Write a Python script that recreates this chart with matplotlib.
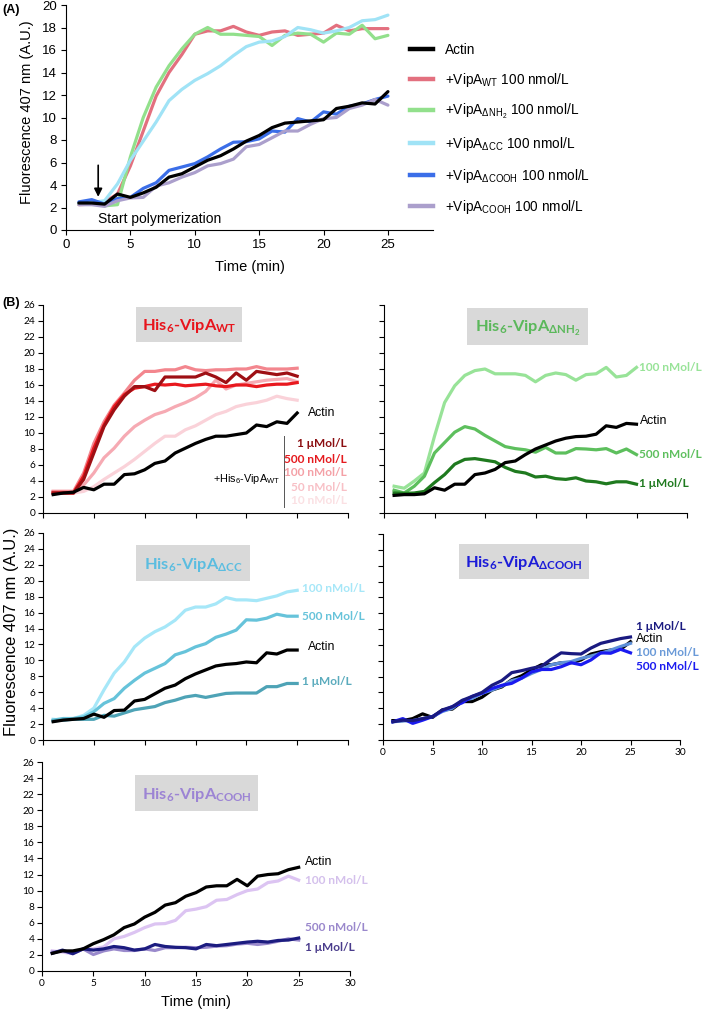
import matplotlib
matplotlib.use("Agg")
import matplotlib.pyplot as plt
from matplotlib.patches import Rectangle
from matplotlib.lines import Line2D

plt.rcParams['font.family'] = ['Liberation Sans', 'DejaVu Sans']
plt.rcParams['mathtext.default'] = 'regular'

# ---------------- data ----------------
time = [1, 2, 3, 4, 5, 6, 7, 8, 9, 10, 11, 12, 13, 14, 15, 16, 17, 18, 19, 20, 21, 22, 23, 24, 25]

# Panel A
a_actin = [2.4, 2.4, 2.3, 3.2, 2.9, 3.3, 3.8, 4.7, 5.0, 5.6, 6.2, 6.6, 7.2, 7.9, 8.4, 9.1, 9.5, 9.6, 9.7, 9.8, 10.8, 11.0, 11.3, 11.2, 12.3]
a_wt = [2.25, 2.3, 2.5, 3.2, 5.7, 8.8, 11.9, 14.0, 15.6, 17.4, 17.7, 17.7, 18.1, 17.6, 17.3, 17.6, 17.7, 17.3, 17.4, 17.5, 18.2, 17.7, 17.9, 17.9, 17.9]
a_dnh2 = [2.3, 2.35, 2.15, 2.25, 6.5, 10.0, 12.7, 14.6, 16.1, 17.4, 18.0, 17.4, 17.4, 17.3, 17.2, 16.4, 17.3, 17.5, 17.4, 16.7, 17.5, 17.4, 18.2, 17.0, 17.3]
a_dcc = [2.4, 2.45, 2.6, 4.1, 6.2, 7.9, 9.6, 11.5, 12.5, 13.3, 13.9, 14.6, 15.5, 16.3, 16.7, 16.8, 17.2, 18.0, 17.8, 17.5, 17.7, 18.0, 18.6, 18.7, 19.1]
a_dcooh = [2.5, 2.7, 2.3, 2.8, 2.9, 3.7, 4.2, 5.3, 5.6, 5.9, 6.5, 7.2, 7.8, 7.85, 8.1, 8.8, 8.7, 9.9, 9.6, 10.5, 10.3, 11.0, 11.2, 11.6, 11.9]
a_cooh = [2.25, 2.25, 2.1, 2.6, 2.85, 2.9, 3.9, 4.2, 4.7, 5.1, 5.7, 5.9, 6.3, 7.4, 7.6, 8.2, 8.8, 8.8, 9.4, 9.9, 10.0, 10.8, 11.1, 11.6, 11.1]

# Panel B - WT
wt_actin = [2.3, 2.5, 2.6, 3.2, 2.9, 3.6, 3.6, 4.8, 4.9, 5.4, 6.2, 6.5, 7.5, 8.1, 8.7, 9.2, 9.6, 9.6, 9.8, 10.0, 11.0, 10.8, 11.4, 11.2, 12.5]
wt_1um = [2.5, 2.5, 2.5, 4.2, 7.5, 10.8, 12.9, 14.6, 15.8, 15.8, 15.3, 17.0, 17.0, 17.0, 17.0, 17.5, 17.0, 16.3, 17.5, 16.6, 17.7, 17.5, 17.3, 17.5, 17.1]
wt_500 = [2.5, 2.5, 2.5, 4.6, 8.1, 11.0, 13.3, 14.8, 15.6, 15.8, 16.1, 16.0, 16.1, 15.9, 16.0, 16.1, 15.9, 15.8, 16.0, 16.0, 15.8, 16.0, 16.1, 16.1, 16.3]
wt_100 = [2.7, 2.7, 2.7, 5.0, 8.7, 11.4, 13.5, 15.0, 16.6, 17.7, 17.7, 17.9, 17.9, 18.3, 17.9, 17.8, 17.9, 17.9, 18.0, 18.0, 18.3, 18.0, 18.0, 18.0, 18.1]
wt_50 = [2.7, 2.7, 2.7, 3.5, 5.0, 6.9, 8.1, 9.6, 10.8, 11.6, 12.3, 12.7, 13.3, 13.8, 14.4, 15.2, 16.6, 15.5, 16.0, 16.2, 16.4, 16.6, 16.7, 16.8, 16.4]
wt_10 = [2.6, 2.6, 2.5, 2.7, 3.3, 4.2, 5.0, 5.8, 6.7, 7.7, 8.7, 9.6, 9.6, 10.4, 10.9, 11.6, 12.3, 12.7, 13.3, 13.6, 13.8, 14.1, 14.6, 14.3, 14.1]

# Panel B - dNH2
nh_actin = [2.2, 2.3, 2.3, 2.4, 3.15, 2.85, 3.6, 3.6, 4.8, 5.0, 5.45, 6.3, 6.5, 7.3, 8.0, 8.5, 9.0, 9.35, 9.55, 9.6, 9.85, 10.9, 10.7, 11.2, 11.1]
nh_100 = [3.35, 3.1, 4.0, 5.0, 9.6, 13.8, 15.9, 17.2, 17.8, 18.0, 17.4, 17.4, 17.4, 17.2, 16.4, 17.2, 17.5, 17.3, 16.6, 17.3, 17.4, 18.2, 17.0, 17.2, 18.2]
nh_500 = [2.85, 2.5, 3.35, 4.6, 7.5, 8.8, 10.1, 10.8, 10.5, 9.7, 9.0, 8.3, 8.05, 7.9, 7.6, 8.2, 7.5, 7.5, 8.05, 8.0, 7.9, 8.05, 7.5, 8.0, 7.3]
nh_1um = [2.5, 2.45, 2.5, 2.7, 3.8, 4.8, 6.1, 6.7, 6.8, 6.6, 6.4, 5.7, 5.2, 5.0, 4.5, 4.6, 4.3, 4.2, 4.4, 4.0, 3.9, 3.65, 3.9, 3.9, 3.6]

# Panel B - dCC
cc_actin = [2.3, 2.5, 2.6, 2.7, 3.25, 2.85, 3.7, 3.75, 4.9, 5.1, 5.8, 6.5, 6.9, 7.7, 8.3, 8.8, 9.3, 9.5, 9.6, 9.8, 9.7, 10.95, 10.8, 11.3, 11.3]
cc_100 = [2.6, 2.5, 2.7, 3.1, 4.0, 6.3, 8.4, 9.8, 11.7, 12.8, 13.6, 14.2, 15.05, 16.3, 16.7, 16.7, 17.1, 17.9, 17.6, 17.6, 17.5, 17.8, 18.1, 18.6, 18.8]
cc_500 = [2.5, 2.7, 2.7, 2.9, 3.55, 4.6, 5.2, 6.5, 7.5, 8.4, 9.0, 9.6, 10.7, 11.1, 11.7, 12.1, 12.9, 13.3, 13.8, 15.1, 15.05, 15.3, 15.8, 15.55, 15.55]
cc_1um = [2.4, 2.5, 2.6, 2.6, 2.6, 3.1, 3.0, 3.4, 3.8, 4.0, 4.2, 4.7, 5.0, 5.4, 5.6, 5.35, 5.6, 5.85, 5.9, 5.9, 5.9, 6.7, 6.7, 7.1, 7.1]

# Panel B - dCOOH
dc_actin = [2.45, 2.45, 2.7, 3.3, 2.85, 3.8, 3.9, 4.85, 4.85, 5.4, 6.3, 6.7, 7.6, 8.1, 8.85, 9.5, 9.5, 9.75, 9.75, 10.1, 10.85, 11.15, 11.35, 11.45, 12.4]
dc_1um = [2.3, 2.5, 2.45, 2.7, 2.95, 3.8, 4.2, 5.0, 5.5, 6.0, 6.9, 7.5, 8.5, 8.75, 9.05, 9.3, 10.2, 11.0, 10.9, 10.85, 11.6, 12.2, 12.5, 12.8, 13.0]
dc_100 = [2.3, 2.4, 2.45, 2.7, 2.95, 3.6, 4.0, 5.0, 5.25, 5.9, 6.3, 6.8, 7.5, 7.8, 8.4, 8.9, 9.5, 9.75, 9.9, 10.3, 10.6, 10.95, 11.35, 11.8, 12.2]
dc_500 = [2.3, 2.7, 2.1, 2.5, 2.95, 3.7, 4.2, 4.7, 5.5, 5.9, 6.5, 6.9, 7.15, 7.8, 8.6, 8.9, 8.9, 9.25, 9.75, 9.5, 10.1, 11.0, 10.95, 11.45, 11.0]

# Panel B - COOH
co_actin = [2.2, 2.5, 2.5, 2.75, 3.4, 3.9, 4.5, 5.4, 5.85, 6.7, 7.3, 8.2, 8.5, 9.3, 9.75, 10.45, 10.6, 10.6, 11.4, 10.6, 11.8, 12.0, 12.1, 12.6, 12.9]
co_100 = [2.5, 2.35, 2.15, 2.75, 2.75, 3.0, 4.0, 4.3, 4.8, 5.4, 5.85, 5.9, 6.3, 7.5, 7.7, 8.0, 8.8, 8.9, 9.5, 10.0, 10.2, 11.0, 11.2, 11.8, 11.3]
co_500 = [2.35, 2.5, 2.2, 2.75, 2.05, 2.5, 2.75, 2.55, 2.55, 2.75, 2.55, 2.9, 2.9, 2.95, 2.9, 2.95, 3.1, 3.15, 3.35, 3.45, 3.3, 3.45, 3.7, 4.0, 3.85]
co_1um = [2.2, 2.6, 2.15, 2.75, 2.6, 2.75, 3.05, 2.9, 2.6, 2.75, 3.3, 3.05, 2.95, 2.9, 2.75, 3.3, 3.15, 3.3, 3.45, 3.6, 3.7, 3.6, 3.8, 3.85, 4.1]

a_labels = ['Actin', '+VipA$_{WT}$ 100 nmol/L', '+VipA$_{ΔNH_2}$ 100 nmol/L',
            '+VipA$_{ΔCC}$ 100 nmol/L', '+VipA$_{ΔCOOH}$ 100 nmol/L', '+VipA$_{COOH}$ 100 nmol/L']
a_ticks_x = [0, 5, 10, 15, 20, 25]
a_ticks_y = [0, 2, 4, 6, 8, 10, 12, 14, 16, 18, 20]
b_ticks_x = [0, 5, 10, 15, 20, 25, 30]
b_ticks_y = [0, 2, 4, 6, 8, 10, 12, 14, 16, 18, 20, 22, 24, 26]

# ---------------- figure ----------------
W, H = 709, 1010
fig = plt.figure(figsize=(W / 100, H / 100), dpi=100)

def px_axes(l, t, r, b):
    return fig.add_axes([l / W, 1 - b / H, (r - l) / W, (b - t) / H])

LW = 2.3
CALIBRI = ['Lato', 'DejaVu Sans']

# ---- Panel A ----
axA = px_axes(66, 5, 433, 230)
a_series = [a_actin, a_wt, a_dnh2, a_dcc, a_dcooh, a_cooh]
a_colors = ['black', '#e3707f', '#92e08c', '#a0e3f6', '#3b6ee8', '#ab9fcc']
order = [1, 2, 3, 0, 4, 5]
for i in order:
    axA.plot(time, a_series[i], color=a_colors[i], lw=LW, solid_joinstyle='round',
             solid_capstyle='round', zorder=3 if i == 0 else 2)
axA.set_xlim(0, 28.5)
axA.set_ylim(0, 20)
axA.set_xticks(a_ticks_x)
axA.set_yticks(a_ticks_y)
for s in ['top', 'right']:
    axA.spines[s].set_visible(False)
axA.tick_params(direction='out', length=3.5, width=0.8, labelsize=9.5, pad=3)
axA.annotate('', xy=(2.5, 2.7), xytext=(2.5, 6.0),
             arrowprops=dict(arrowstyle='-|>', color='black', lw=1.2, mutation_scale=12))
axA.text(2.5, 1.0, 'Start polymerization', fontsize=10, va='center', ha='left')

handles = [Line2D([], [], color=c, lw=3.2) for c in a_colors]
fig.legend(handles, a_labels, loc='upper left', bbox_to_anchor=(410 / W, 1 - 43 / H),
           frameon=False, fontsize=9.8, handlelength=1.7, handletextpad=0.85,
           labelspacing=1.0, borderpad=0, borderaxespad=0)

fig.text(250 / W, 1 - 267 / H, 'Time (min)', fontsize=10.5, ha='center', va='center')
fig.text(27 / W, 1 - 112 / H, 'Fluorescence 407 nm (A.U.)', fontsize=10.5, rotation=90,
         ha='center', va='center')
fig.text(2 / W, 1 - 10 / H, '(A)', fontsize=9, fontweight='bold', va='center')
fig.text(2 / W, 1 - 303 / H, '(B)', fontsize=9, fontweight='bold', va='center')


def style_b(ax, show_x, show_y):
    ax.set_xlim(0, 30)
    ax.set_ylim(0, 26)
    ax.set_xticks(b_ticks_x)
    ax.set_yticks(b_ticks_y)
    for s in ['top', 'right']:
        ax.spines[s].set_visible(False)
    ax.tick_params(direction='out', length=3.5, width=0.8, labelsize=7.3, pad=2)
    if not show_x:
        ax.set_xticklabels([])
    if not show_y:
        ax.set_yticklabels([])
    for lab_ in ax.get_xticklabels() + ax.get_yticklabels():
        lab_.set_family(CALIBRI)


def title_box(ax, x0, x1, y0, y1, text, color):
    ax.add_patch(Rectangle((x0, y0), x1 - x0, y1 - y0, facecolor='#d9d9d9',
                           edgecolor='none', zorder=1, clip_on=False))
    ax.text((x0 + x1) / 2, (y0 + y1) / 2 - 0.2, text, color=color, fontsize=11.8,
            fontweight='bold', family=CALIBRI, ha='center', va='center', zorder=2)


def lab(ax, x, y, text, color, bold=True, size=8.6, ha='left'):
    if bold:
        ax.text(x, y, text, color=color, fontsize=size, fontweight='bold', family=CALIBRI,
                ha=ha, va='center', clip_on=False)
    else:
        ax.text(x, y, text, color=color, fontsize=size, ha=ha, va='center', clip_on=False)


# ---- B: WT ----
ax1 = px_axes(43, 305, 348, 513)
style_b(ax1, False, True)
wt_series = [wt_10, wt_50, wt_100, wt_500, wt_1um]
wt_colors = ['#fad2d9', '#f6aab3', '#f3868e', '#e8181e', '#9e0f14']
for ys, c in zip(wt_series, wt_colors):
    ax1.plot(time, ys, color=c, lw=LW, solid_joinstyle='round')
ax1.plot(time, wt_actin, color='black', lw=LW, solid_joinstyle='round')
title_box(ax1, 9.1, 19.6, 21.4, 25.8, 'His$_6$-VipA$_{WT}$', '#e8141c')
lab(ax1, 26.1, 12.5, 'Actin', 'black', bold=False, size=8.8)
ax1.plot([23.7, 23.7], [0.8, 9.6], color='#555555', lw=0.7, clip_on=False)
lab(ax1, 23.3, 4.2, '+His$_6$-VipA$_{WT}$', 'black', bold=False, size=7.8, ha='right')
wt_lab_text = ['1 μMol/L', '500 nMol/L', '100 nMol/L', '50 nMol/L', '10 nMol/L']
wt_lab_col = ['#8b0d10', '#e51a1e', '#f4a0a6', '#f8c0c6', '#fbe0e3']
wt_lab_y = [8.65, 6.7, 5.0, 3.2, 1.6]
for t_, c_, y_ in zip(wt_lab_text, wt_lab_col, wt_lab_y):
    lab(ax1, 29.9, y_, t_, c_, ha='right')

# ---- B: dNH2 ----
ax2 = px_axes(384, 305, 687, 513)
style_b(ax2, False, False)
for ys, c in zip([nh_100, nh_500, nh_1um], ['#98e398', '#5dbf5d', '#1f7a1f']):
    ax2.plot(time, ys, color=c, lw=LW, solid_joinstyle='round')
ax2.plot(time, nh_actin, color='black', lw=LW, solid_joinstyle='round')
title_box(ax2, 8.25, 20.2, 21.0, 25.6, 'His$_6$-VipA$_{ΔNH_2}$', '#5bb85b')
lab(ax2, 25.2, 18.2, '100 nMol/L', '#98e398')
lab(ax2, 25.3, 11.5, 'Actin', 'black', bold=False, size=8.8)
lab(ax2, 25.2, 7.3, '500 nMol/L', '#5dbf5d')
lab(ax2, 25.2, 3.7, '1 μMol/L', '#1f7a1f')

# ---- B: dCC ----
ax3 = px_axes(43, 533, 348, 740)
style_b(ax3, False, True)
for ys, c in zip([cc_100, cc_500, cc_1um], ['#a6e7f8', '#66c3da', '#4ea3b6']):
    ax3.plot(time, ys, color=c, lw=LW, solid_joinstyle='round')
ax3.plot(time, cc_actin, color='black', lw=LW, solid_joinstyle='round')
title_box(ax3, 9.1, 20.4, 20.0, 24.45, 'His$_6$-VipA$_{ΔCC}$', '#5bbde0')
lab(ax3, 25.5, 19.0, '100 nMol/L', '#a6e7f8')
lab(ax3, 25.5, 15.55, '500 nMol/L', '#66c3da')
lab(ax3, 26.1, 11.7, 'Actin', 'black', bold=False, size=8.8)
lab(ax3, 25.5, 7.3, '1 μMol/L', '#5aabbd')

# ---- B: dCOOH ----
ax4 = px_axes(383, 534, 680, 740)
style_b(ax4, True, False)
ax4.plot(time, dc_actin, color='black', lw=LW, solid_joinstyle='round')
for ys, c in zip([dc_100, dc_500, dc_1um], ['#5e90d8', '#1a1af0', '#1a1a80']):
    ax4.plot(time, ys, color=c, lw=LW, solid_joinstyle='round')
title_box(ax4, 7.7, 20.8, 20.3, 24.8, 'His$_6$-VipA$_{ΔCOOH}$', '#1c1cd8')
lab(ax4, 25.6, 14.3, '1 μMol/L', '#1a1a80')
lab(ax4, 25.6, 12.7, 'Actin', 'black', bold=False, size=8.8)
lab(ax4, 25.6, 11.0, '100 nMol/L', '#6a9ad8')
lab(ax4, 25.6, 9.3, '500 nMol/L', '#1c1cf0')

# ---- B: COOH ----
ax5 = px_axes(42, 762, 350, 971)
style_b(ax5, True, True)
for ys, c in zip([co_100, co_500, co_1um], ['#dcc4f2', '#9a8acc', '#1c1c80']):
    ax5.plot(time, ys, color=c, lw=LW, solid_joinstyle='round')
ax5.plot(time, co_actin, color='black', lw=LW, solid_joinstyle='round')
title_box(ax5, 9.1, 21.0, 19.9, 24.4, 'His$_6$-VipA$_{COOH}$', '#9c84d4')
lab(ax5, 25.6, 13.5, 'Actin', 'black', bold=False, size=8.8)
lab(ax5, 25.6, 11.2, '100 nMol/L', '#d4c0ec')
lab(ax5, 25.6, 5.35, '500 nMol/L', '#9a88cc')
lab(ax5, 25.6, 2.95, '1 μMol/L', '#4a3c8c')

fig.text(196 / W, 1 - 1002 / H, 'Time (min)', fontsize=10.5, ha='center', va='center')
fig.text(12 / W, 1 - 632 / H, 'Fluorescence 407 nm (A.U.)', fontsize=12, rotation=90,
         ha='center', va='center')

fig.savefig('out.png', dpi=100)
